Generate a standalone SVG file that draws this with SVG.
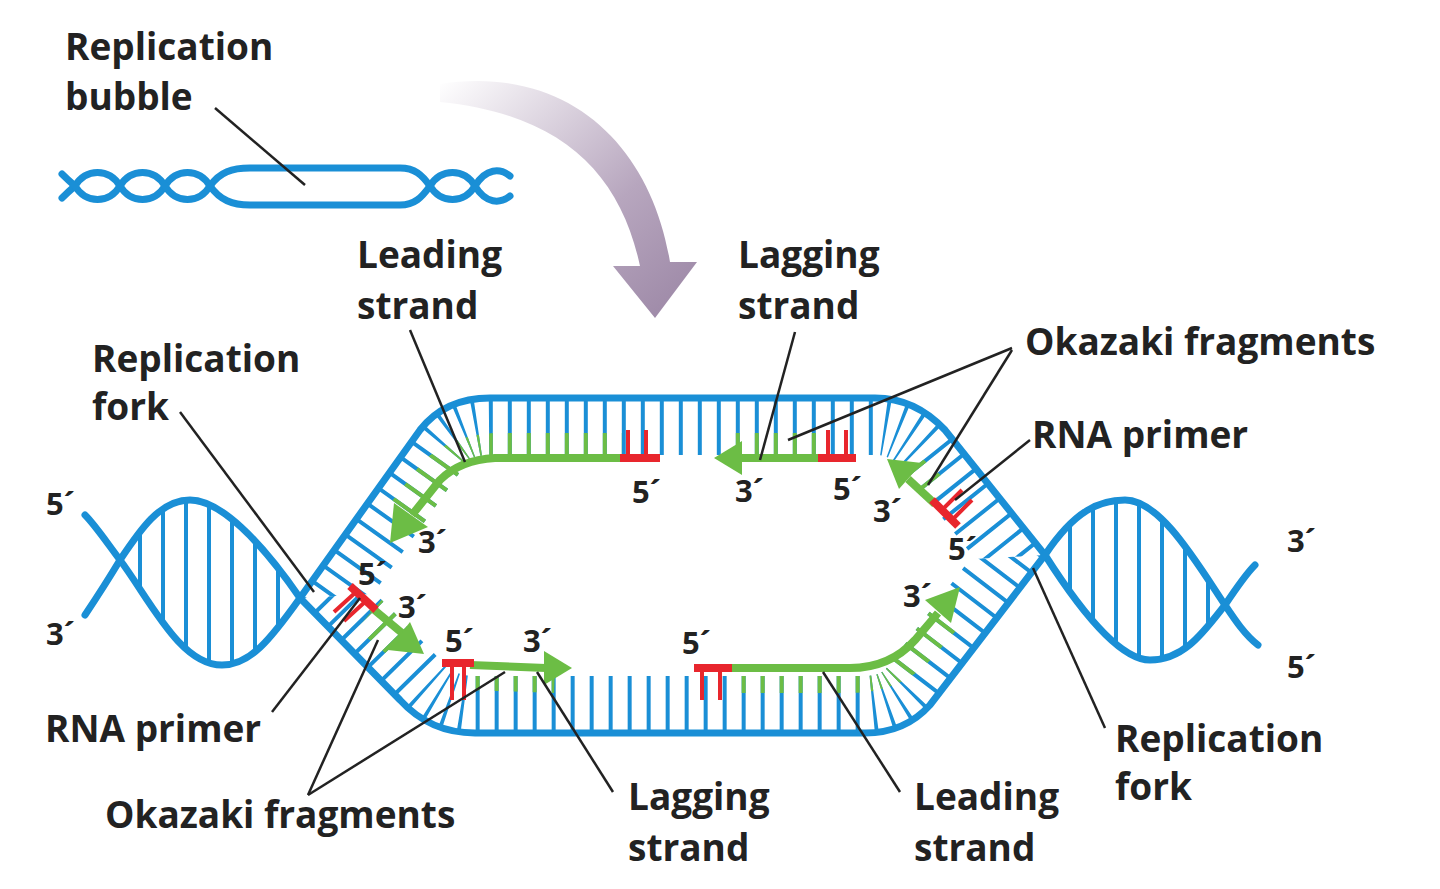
<svg xmlns="http://www.w3.org/2000/svg" width="1440" height="889" viewBox="0 0 1440 889">
<style>
.b{fill:none;stroke:#1a8fd6;stroke-width:7;stroke-linecap:round}
.bt{fill:none;stroke:#1a8fd6;stroke-width:114;stroke-dasharray:4 15}
.gt{fill:none;stroke:#6cbd45;stroke-width:114;stroke-dasharray:4 15}
.g{fill:none;stroke:#6cbd45;stroke-width:8}
.r{fill:none;stroke:#e8262d;stroke-width:8}
.rt{fill:none;stroke:#e8262d;stroke-width:4}
.ga{fill:#6cbd45}
.ld{fill:none;stroke:#222;stroke-width:2.5}
.lab{font-family:"Open Sans","Liberation Sans",sans-serif;font-weight:700;font-size:37px;fill:#222}
.sm{font-family:"Open Sans","Liberation Sans",sans-serif;font-weight:700;font-size:31px;fill:#222}
</style>
<defs>
<linearGradient id="pg" x1="0" y1="0" x2="1" y2="1">
<stop offset="0" stop-color="#ffffff"/><stop offset="0.6" stop-color="#b7a6be"/><stop offset="1" stop-color="#9a85a4"/>
</linearGradient>
<clipPath id="bubT"><path d="M300,598 L420,430 Q445,398 490,398 L875,398 Q915,398 945,430 L1045,555 Z"/></clipPath>
<clipPath id="bubB"><path d="M300,598 L400,700 Q430,733 475,733 L865,733 Q905,733 930,705 L1045,555 Z"/></clipPath>
<clipPath id="lobeL"><path d="M300,598 C260,540 220,500 190,500 C160,500 140,530 120,560 C150,600 180,665 222,665 C250,665 270,640 300,598 Z"/></clipPath>
<clipPath id="lobeR"><path d="M1045,555 C1075,510 1100,500 1125,500 C1160,500 1195,560 1225,605 C1205,630 1185,660 1150,660 C1120,660 1080,610 1045,555 Z"/></clipPath>
<mask id="gm" maskUnits="userSpaceOnUse" x="0" y="0" width="1440" height="889">
<g fill="none" stroke="#fff" stroke-width="50">
<path d="M622,458 L495,458 Q460,460 440,480 L405,525"/>
<path d="M820,458 L735,458"/>
<path d="M933,502 L900,472"/>
<path d="M373,610 L412,643"/>
<path d="M472,665 L555,668"/>
<path d="M730,668 L850,668 Q890,668 915,640 L945,605"/>
</g>
</mask>
</defs>

<path d="M440,84 C572,64 652,150 670,262 L697,262 L655,318 L613,266 L640,266 C620,172 560,114 440,102 Z" fill="url(#pg)"/>

<g id="small-helix">
<path class="b" stroke-width="5" d="M62,198 Q68,192 75,186 C86,168 109,168 120,186 C131,204 154,204 165,186 C176,168 199,168 210,186 C220,200 232,205 250,205 L400,205 C415,205 422,197 430,186 C441,168 464,168 475,186 C486,204 500,204 510,196"/>
<path class="b" stroke-width="5" d="M62,174 Q68,180 75,186 C86,204 109,204 120,186 C131,168 154,168 165,186 C176,204 199,204 210,186 C220,172 232,168 250,168 L400,168 C415,168 422,175 430,186 C441,204 464,204 475,186 C486,168 500,168 510,176"/>
</g>

<g id="dna">
<g clip-path="url(#bubT)">
<path class="bt" d="M300,598 L420,430 Q445,398 490,398 L875,398 Q915,398 945,430 L1045,555"/>
<path class="gt" mask="url(#gm)" d="M300,598 L420,430 Q445,398 490,398 L875,398 Q915,398 945,430 L1045,555"/>
</g>
<g clip-path="url(#bubB)">
<path class="bt" d="M300,598 L400,700 Q430,733 475,733 L865,733 Q905,733 930,705 L1045,555"/>
<path class="gt" mask="url(#gm)" d="M300,598 L400,700 Q430,733 475,733 L865,733 Q905,733 930,705 L1045,555"/>
</g>
<g clip-path="url(#lobeL)" stroke="#1a8fd6" stroke-width="4">
<path d="M140,480V690M163,480V690M186,480V690M209,480V690M232,480V690M255,480V690M278,480V690"/>
</g>
<g clip-path="url(#lobeR)" stroke="#1a8fd6" stroke-width="4">
<path d="M1070,480V690M1093,480V690M1116,480V690M1139,480V690M1162,480V690M1185,480V690M1208,480V690"/>
</g>
<path class="b" d="M300,598 L420,430 Q445,398 490,398 L875,398 Q915,398 945,430 L1045,555 C1080,610 1120,660 1150,660 C1185,660 1205,630 1225,605 C1235,590 1245,575 1255,565"/>
<path class="b" d="M300,598 L400,700 Q430,733 475,733 L865,733 Q905,733 930,705 L1045,555 C1075,510 1100,500 1125,500 C1160,500 1195,560 1225,605 C1235,620 1245,635 1258,645"/>
<path class="b" d="M300,598 C270,640 250,665 222,665 C180,665 150,600 120,560 C105,540 95,525 85,515"/>
<path class="b" d="M300,598 C260,540 220,500 190,500 C160,500 140,530 120,560 C105,585 95,600 85,615"/>
</g>

<g id="new-strands">
<path class="g" d="M622,458 L495,458 Q460,460 440,480 L412,515"/>
<polygon class="ga" points="390,543 394,503 428,527"/>
<path class="r" d="M620,458 H660"/><path class="rt" d="M628,430V458M646,430V458"/>

<path class="g" d="M820,458 L740,458"/>
<polygon class="ga" points="714,458 742,441 742,475"/>
<path class="r" d="M818,458 H856"/><path class="rt" d="M828,430V458M846,430V458"/>

<path class="g" d="M935,504 L908,479"/>
<polygon class="ga" points="887,459 922,463 899,489"/>
<path class="r" d="M932,500 L958,526"/><path class="rt" d="M942,510 L962,490 M952,520 L972,500"/>

<path class="g" d="M372,608 L402,633"/>
<polygon class="ga" points="424,654 388,650 410,622"/>
<path class="r" d="M350,586 L376,610"/><path class="rt" d="M356,592 L334,612 M366,601 L344,621"/>

<path class="g" d="M470,665 L546,668"/>
<polygon class="ga" points="572,668 544,651 544,685"/>
<path class="r" d="M442,663 H474"/><path class="rt" d="M452,663V700M464,663V700"/>

<path class="g" d="M728,668 L850,668 Q890,668 915,640 L938,613"/>
<polygon class="ga" points="960,587 925,600 951,623"/>
<path class="r" d="M694,668 H732"/><path class="rt" d="M702,668V700M720,668V700"/>
</g>

<g id="connectors" class="ld">
<path d="M215,108 L305,185"/>
<path d="M410,330 L465,462"/>
<path d="M795,332 L760,460"/>
<path d="M1012,348 L788,440"/>
<path d="M1012,350 L928,485"/>
<path d="M1030,440 L955,500"/>
<path d="M180,412 L314,592"/>
<path d="M1105,728 L1033,568"/>
<path d="M272,712 L360,598"/>
<path d="M308,795 L378,640"/>
<path d="M308,795 L505,672"/>
<path d="M613,792 L537,672"/>
<path d="M900,792 L823,672"/>
</g>

<g id="labels">
<text class="lab" x="65" y="60">Replication</text><text class="lab" x="65" y="110">bubble</text>
<text class="lab" x="357" y="268">Leading</text><text class="lab" x="357" y="319">strand</text>
<text class="lab" x="738" y="268">Lagging</text><text class="lab" x="738" y="319">strand</text>
<text class="lab" x="1025" y="355">Okazaki fragments</text>
<text class="lab" x="1032" y="448">RNA primer</text>
<text class="lab" x="92" y="372">Replication</text><text class="lab" x="92" y="420">fork</text>
<text class="lab" x="1115" y="752">Replication</text><text class="lab" x="1115" y="800">fork</text>
<text class="lab" x="45" y="742">RNA primer</text>
<text class="lab" x="105" y="828">Okazaki fragments</text>
<text class="lab" x="628" y="810">Lagging</text><text class="lab" x="628" y="861">strand</text>
<text class="lab" x="914" y="810">Leading</text><text class="lab" x="914" y="861">strand</text>
</g>
<g id="ends" class="sm">
<text x="46" y="515">5´</text><text x="46" y="645">3´</text>
<text x="1287" y="552">3´</text><text x="1287" y="678">5´</text>
<text x="632" y="503">5´</text><text x="418" y="553">3´</text>
<text x="735" y="502">3´</text><text x="833" y="500">5´</text>
<text x="873" y="522">3´</text><text x="948" y="560">5´</text>
<text x="358" y="585">5´</text><text x="398" y="618">3´</text>
<text x="445" y="652">5´</text><text x="523" y="652">3´</text>
<text x="682" y="654">5´</text><text x="903" y="607">3´</text>
</g>
</svg>
